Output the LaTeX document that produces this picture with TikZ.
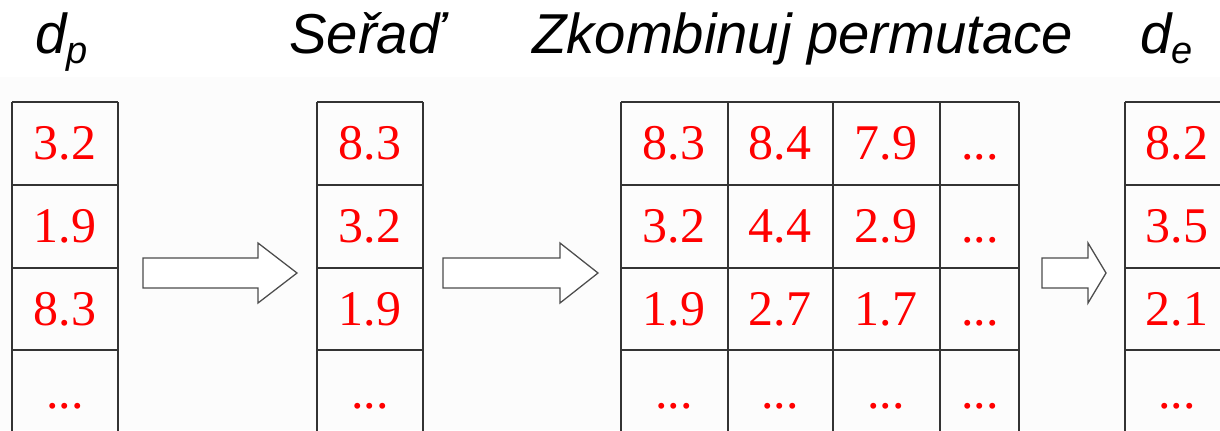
\documentclass[tikz,border=0pt]{standalone}
\usepackage{fontspec}
\setmainfont{Liberation Serif}
\newfontfamily\titlefont{Liberation Sans}
\newfontfamily\numfont{Liberation Serif}
\colorlet{cellred}{red}
\colorlet{gridgray}{black!80}
\colorlet{arrowgray}{black!70}
\newcommand{\celldots}{...}
\newcommand{\lowsub}[1]{\raisebox{-0.25cm}{\fontsize{27pt}{29pt}\selectfont #1}}

\begin{document}
\begin{tikzpicture}[x=0.025cm, y=-0.025cm,
    cellnum/.style={text=cellred, font={\numfont\fontsize{35.5pt}{40pt}\selectfont}, anchor=base, inner sep=0pt},
    title/.style={font={\titlefont\itshape\fontsize{40pt}{46pt}\selectfont}, anchor=base west, inner sep=0pt},
    gridline/.style={draw=gridgray, line width=1.1pt}]
        \useasboundingbox (0,0) rectangle (1220,430);
        \clip (0,0) rectangle (1220,430);
        \fill[black!1] (0,77) rectangle (1220,430);
        % titles
        \node[title] (tp) at (35,53) {d\lowsub{p}};
        \node[title] (ts) at (289,53) {Seřaď};
        \node[title] (tk) at (532,53) {Zkombinuj permutace};
        \node[title] (te) at (1140,53) {d\lowsub{e}};
        % columns and grid
        \foreach \l/\r in {12/118, 317/423, 621/1019, 1125/1231}{
            \foreach \y in {102,185,268,350}{
                \draw[gridline] (\l,\y) -- (\r,\y);
            }
            \draw[gridline] (\l,102) -- (\l,432) (\r,102) -- (\r,432);
        }
        \foreach \x in {728,833,940}{
            \draw[gridline] (\x,102) -- (\x,432);
        }
        % values
        \foreach \v [count=\i] in {3.2,1.9,8.3,\celldots}{
            \node[cellnum] (p\i) at (65, 76+83*\i) {\v};
        }
        \foreach \v [count=\i] in {8.3,3.2,1.9,\celldots}{
            \node[cellnum] (s\i) at (370, 76+83*\i) {\v};
        }
        \foreach \cx/\vals [count=\j] in {674/{8.3,3.2,1.9,\celldots}, 780/{8.4,4.4,2.7,\celldots}, 886/{7.9,2.9,1.7,\celldots}, 980/{\celldots,\celldots,\celldots,\celldots}}{
            \foreach \v [count=\i] in \vals{
                \node[cellnum] (k\j\i) at (\cx, 76+83*\i) {\v};
            }
        }
        \foreach \v [count=\i] in {8.2,3.5,2.1,\celldots}{
            \node[cellnum] (e\i) at (1177, 76+83*\i) {\v};
        }
        % block arrows
        \foreach \a/\b/\c in {143/258/297, 443/560/598, 1042/1088/1106}{
            \draw[arrowgray, line width=0.9pt, fill=white] (\a,258) -- (\b,258) -- (\b,243) -- (\c,273) -- (\b,303) -- (\b,288) -- (\a,288) -- cycle;
        }
\end{tikzpicture}
\end{document}
